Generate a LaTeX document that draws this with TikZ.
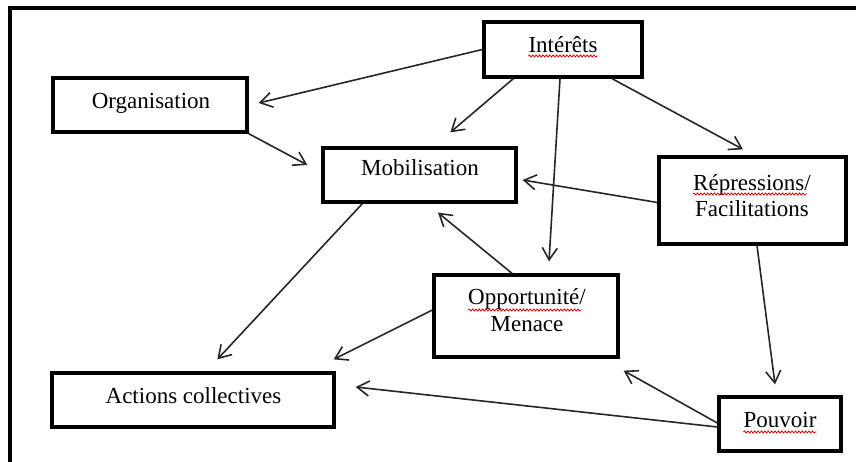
\documentclass[tikz,border=0pt]{standalone}
\usepackage{fontspec}
\setmainfont{Liberation Serif}
\usetikzlibrary{arrows.meta,calc,decorations.pathmorphing}
\begin{document}
\begin{tikzpicture}[x=1pt,y=-1pt,
  box/.style={draw=black, line width=3.3pt, inner sep=0pt},
  lbl/.style={font=\fontsize{23}{26}\selectfont, anchor=base, inner sep=0pt},
  conn/.style={draw=black!85, line width=1.6pt, -{Straight Barb[length=12pt,width=15pt]}},
  squig/.style={draw=red!85!black, line width=0.8pt, decorate, decoration={snake, amplitude=1pt, segment length=3.4pt}}]
\useasboundingbox (0,0) rectangle (856,462);
% outer frame (clipped at right and bottom)
\draw[line width=3.4pt] (856,8) -- (10,8) -- (10,462);

% boxes
\node[box, minimum width=158pt, minimum height=55pt] (int) at (563,49.5) {};
\node[box, minimum width=194pt, minimum height=54pt] (org) at (150,105) {};
\node[box, minimum width=193pt, minimum height=54pt] (mob) at (419.5,175) {};
\node[box, minimum width=187pt, minimum height=87pt] (rep) at (752.5,200.5) {};
\node[box, minimum width=184pt, minimum height=82pt] (opp) at (526,316) {};
\node[box, minimum width=122pt, minimum height=54pt] (pou) at (780,424) {};
\node[box, minimum width=282pt, minimum height=54pt] (act) at (193,400) {};

% labels
\node[lbl] (intT) at (563,53) {Intérêts};
\node[lbl] (orgT) at (151,109) {Organisation};
\node[lbl] (mobT) at (420,176) {Mobilisation};
\node[lbl] (repT1) at (752,191) {Répressions/};
\node[lbl] (repT2) at (752,217) {Facilitations};
\node[lbl] (oppT1) at (527,304) {Opportunité/};
\node[lbl] (oppT2) at (527,331) {Menace};
\node[lbl] (pouT) at (780,427) {Pouvoir};
\node[lbl] (actT) at (193.5,403) {Actions collectives};

% spell-check underlines
\draw[squig] ($(intT.base west)+(0,3)$) -- ($(intT.base east)+(0,3)$);
\draw[squig] ($(repT1.base west)+(0,3)$) -- ($(repT1.base east)+(-4,3)$);
\draw[squig] ($(oppT1.base west)+(0,6)$) -- ($(oppT1.base east)+(-4,6)$);
\draw[squig] ($(pouT.base west)+(0,5)$) -- ($(pouT.base east)+(0,5)$);

% connectors
\draw[conn] (int.west) -- ($(org.east)+(10,-2)$);
\draw[conn] ($(int.south west)+(31,0)$) -- ($(mob.north west)+(129,-14)$);
\draw[conn] ($(int.south)+(-3,0)$) -- ($(opp.north)+(23,-12)$);
\draw[conn] ($(int.south)+(49,0)$) -- ($(rep.north)+(-9.5,-6)$);
\draw[conn] (org.south east) -- ($(mob.west)+(-14,-10)$);
\draw[conn] ($(rep.west)+(0,2)$) -- ($(mob.east)+(5,5)$);
\draw[conn] ($(opp.north)+(-14,0)$) -- ($(mob.south)+(18.5,9)$);
\draw[conn] ($(mob.south west)+(41,0)$) -- ($(act.north west)+(167,-12)$);
\draw[conn] ($(opp.west)+(0,-6)$) -- ($(act.north east)+(-2,-12)$);
\draw[conn] ($(rep.south)+(4.5,0)$) -- ($(pou.north)+(-5,-11)$);
\draw[conn] ($(pou.west)+(0,-1)$) -- ($(opp.south east)+(4,12)$);
\draw[conn] ($(pou.west)+(0,3)$) -- ($(act.east)+(20,-13)$);
\end{tikzpicture}
\end{document}
